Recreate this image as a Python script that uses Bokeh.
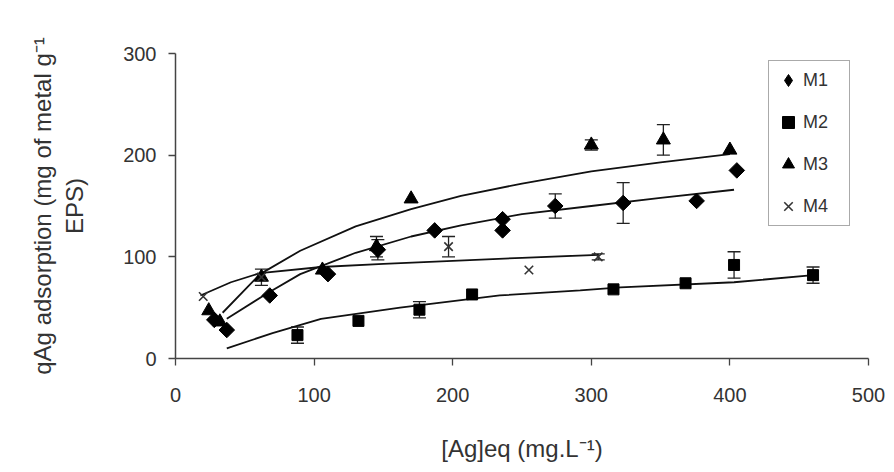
import math
from bokeh.plotting import figure
from bokeh.models import ColumnDataSource, Whisker, Legend, LegendItem, FixedTicker, TeeHead
from bokeh.embed import file_html
from bokeh.resources import INLINE

# ---- data ----
m1_x = [28, 37, 68, 110, 146, 187, 236, 236, 274, 323, 376, 405]
m1_y = [38, 28, 62, 83, 107, 126, 137, 126, 150, 153, 155, 185]
m1_err = [0, 0, 0, 0, 10, 0, 0, 0, 12, 20, 0, 0]

m2_x = [88, 132, 176, 214, 316, 368, 403, 460]
m2_y = [23, 37, 48, 63, 68, 74, 92, 82]
m2_err = [8, 0, 8, 0, 0, 0, 13, 8]

m3_x = [24, 32, 62, 106, 145, 170, 300, 352, 400]
m3_y = [47, 36, 80, 87, 110, 157, 210, 215, 205]
m3_err = [0, 0, 8, 0, 10, 0, 5, 15, 0]

m4_x = [20, 62, 197, 255, 305]
m4_y = [61, 80, 110, 87, 100]
m4_err = [0, 0, 10, 0, 3]

# fitted curves
m1_fit_x = [37, 66, 90, 130, 170, 206, 250, 300, 350, 403]
m1_fit_y = [39, 64, 83, 104, 120, 131, 142, 150, 158, 166]
m2_fit_x = [37, 70, 105, 162, 234, 292, 321, 403, 460]
m2_fit_y = [10, 25, 39, 50, 62, 67, 70, 75, 82]
m3_fit_x = [34, 61, 90, 130, 170, 206, 250, 300, 350, 400]
m3_fit_y = [45, 83, 106, 130, 147, 160, 172, 184, 193, 201]
m4_fit_x = [18, 40, 61, 105, 150, 200, 250, 305]
m4_fit_y = [62, 75, 84, 90, 93, 96, 99, 102]

x_ticks = [0, 100, 200, 300, 400, 500]
y_ticks = [0, 100, 200, 300]
series_names = ["M1", "M2", "M3", "M4"]
x_title = "[Ag]eq (mg.L\u207b\u00b9)"
y_title = "qAg adsorption (mg of metal g\u207b\u00b9\nEPS)"

FONT = "Liberation Sans"
TXT = "#333333"

p = figure(width=886, height=464, x_range=(0, 500), y_range=(0, 300),
           output_backend="svg", toolbar_location=None,
           min_border_left=175, min_border_right=18, min_border_top=53, min_border_bottom=106)
p.outline_line_color = None
p.xgrid.visible = False
p.ygrid.visible = False
p.background_fill_color = "white"
p.border_fill_color = "white"

for ax in (p.xaxis[0], p.yaxis[0]):
    ax.axis_line_color = "#444"
    ax.axis_line_width = 1.5
    ax.major_tick_line_color = "#444"
    ax.major_tick_line_width = 1.3
    ax.major_tick_out = 7
    ax.major_tick_in = 0
    ax.minor_tick_out = 0
    ax.minor_tick_in = 0
    ax.major_label_text_font = FONT
    ax.major_label_text_font_size = "20px"
    ax.major_label_text_color = TXT
    ax.axis_label_text_font = FONT
    ax.axis_label_text_font_size = "24px"
    ax.axis_label_text_font_style = "normal"
    ax.axis_label_text_color = TXT

p.xaxis.ticker = FixedTicker(ticks=x_ticks)
p.yaxis.ticker = FixedTicker(ticks=y_ticks)
p.xaxis.major_label_standoff = 22
p.yaxis.major_label_standoff = 12

p.xaxis.axis_label = x_title
p.xaxis.axis_label_standoff = 30
p.yaxis.axis_label = y_title
p.yaxis.axis_label_standoff = 32

# fitted curves
for fx, fy in [(m1_fit_x, m1_fit_y), (m2_fit_x, m2_fit_y), (m3_fit_x, m3_fit_y), (m4_fit_x, m4_fit_y)]:
    p.line(fx, fy, line_color="#111", line_width=1.8)

# error bars
def add_err(xs, ys, es):
    xx = [x for x, e in zip(xs, es) if e > 0]
    lo = [y - e for y, e in zip(ys, es) if e > 0]
    hi = [y + e for y, e in zip(ys, es) if e > 0]
    src = ColumnDataSource(dict(x=xx, lo=lo, hi=hi))
    w = Whisker(source=src, base="x", lower="lo", upper="hi", line_color="#222", line_width=1.3,
                upper_head=TeeHead(size=13, line_color="#222", line_width=1.3),
                lower_head=TeeHead(size=13, line_color="#222", line_width=1.3))
    p.add_layout(w)

add_err(m1_x, m1_y, m1_err)
add_err(m2_x, m2_y, m2_err)
add_err(m3_x, m3_y, m3_err)
add_err(m4_x, m4_y, m4_err)

r1 = p.scatter(m1_x, m1_y, marker="square", angle=math.pi / 4, size=11, fill_color="black", line_color="black")
# legend-only diamond (zero size on the plot, the legend uses its own size)
r1_leg = p.scatter(m1_x, m1_y, marker="diamond", size=0, fill_color="black", line_color="black")
r2 = p.scatter(m2_x, m2_y, marker="square", size=11, fill_color="black", line_color="black")
r3 = p.scatter(m3_x, m3_y, marker="triangle", size=14, fill_color="black", line_color="black")
r4 = p.scatter(m4_x, m4_y, marker="x", size=12, line_color="#333", line_width=1.6)

legend = Legend(items=[LegendItem(label=n, renderers=[r]) for n, r in zip(series_names, [r1_leg, r2, r3, r4])],
                location=(593, 132), orientation="vertical",
                label_text_font=FONT, label_text_font_size="18px", label_text_color=TXT,
                glyph_width=30, glyph_height=30, spacing=12, padding=4, margin=0,
                label_width=42, label_standoff=0, label_height=30,
                border_line_color="#555", border_line_width=1.5, background_fill_color="white")
p.add_layout(legend)

open("out.html", "w").write(file_html(p, INLINE))
